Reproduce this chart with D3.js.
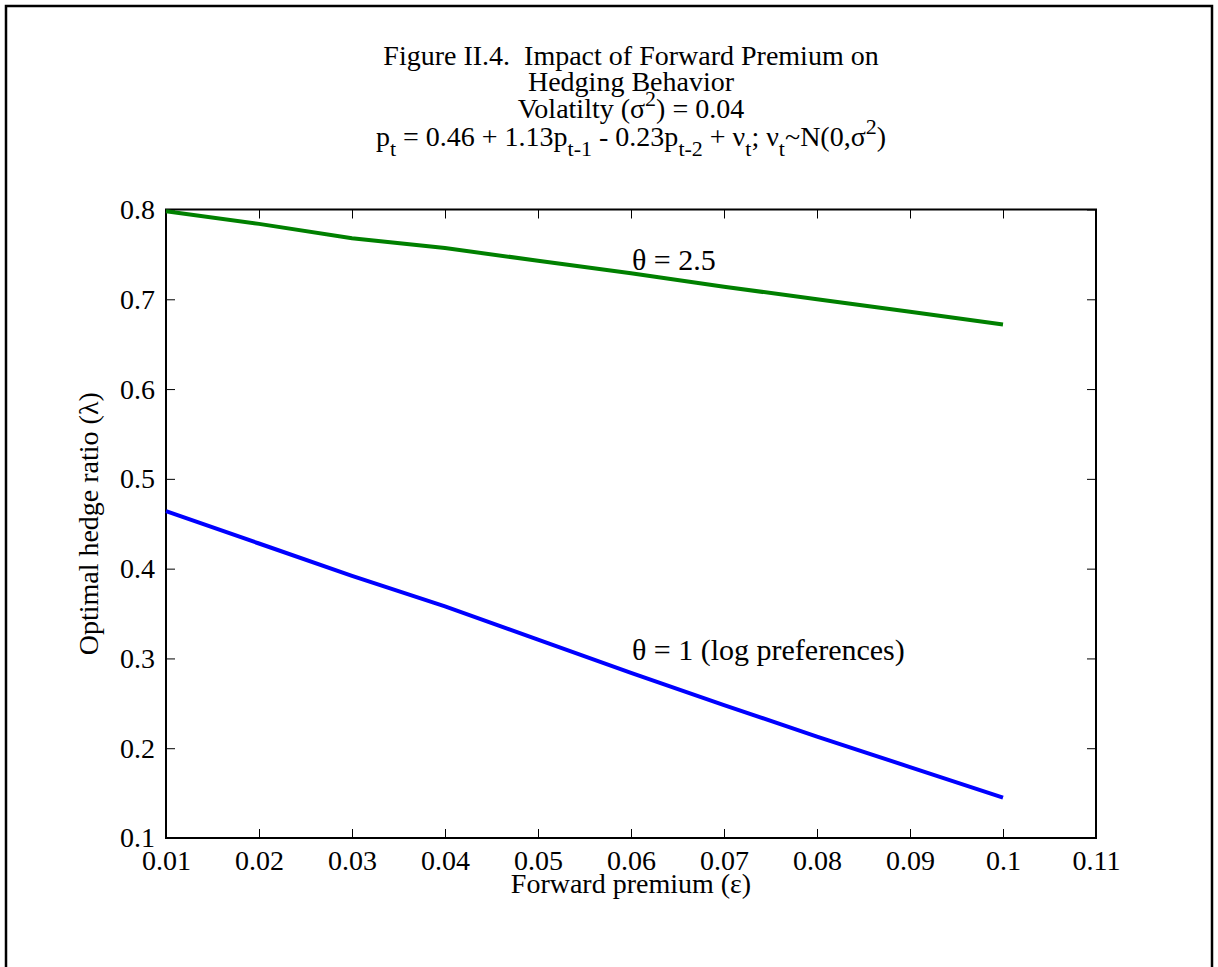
<!DOCTYPE html>
<html><head><meta charset="utf-8">
<script src="https://cdn.jsdelivr.net/npm/d3@7"></script>
<style>
body{margin:0;background:#fff}
svg{display:block}
text{font-family:"Liberation Serif","Times New Roman",serif;fill:#000;white-space:pre}
</style>
</head><body>
<svg id="c" width="1218" height="967"></svg>
<script>
// ---- data ----
const premium = [0.01, 0.02, 0.03, 0.04, 0.05, 0.06, 0.07, 0.08, 0.09, 0.10];
const hedgeTheta25 = [0.798, 0.784, 0.768, 0.757, 0.743, 0.729, 0.714, 0.700, 0.686, 0.672];
const hedgeTheta1  = [0.464, 0.428, 0.392, 0.358, 0.321, 0.284, 0.248, 0.213, 0.179, 0.145];
const xTicks = [0.01, 0.02, 0.03, 0.04, 0.05, 0.06, 0.07, 0.08, 0.09, 0.10, 0.11];
const xTickLabels = ["0.01","0.02","0.03","0.04","0.05","0.06","0.07","0.08","0.09","0.1","0.11"];
const yTicks = [0.1, 0.2, 0.3, 0.4, 0.5, 0.6, 0.7, 0.8];
const yTickLabels = ["0.1","0.2","0.3","0.4","0.5","0.6","0.7","0.8"];
const seriesNames = ["\u03b8 = 2.5", "\u03b8 = 1 (log preferences)"];
const xLabel = "Forward premium (\u03b5)";
const yLabel = "Optimal hedge ratio (\u03bb)";

// ---- layout ----
const svg = d3.select("#c");
const FS = 28;
const x = d3.scaleLinear().domain([0.01, 0.11]).range([166, 1096]);
const y = d3.scaleLinear().domain([0.1, 0.8]).range([838, 209.5]);

// outer frame
svg.append("rect").attr("x", 6).attr("y", 6).attr("width", 1206).attr("height", 980)
  .attr("fill", "none").attr("stroke", "#000").attr("stroke-width", 2.5);

// axes with inward ticks on all four sides
function styleAxis(g){
  g.select(".domain").remove();
  g.selectAll(".tick line").attr("stroke", "#000").attr("stroke-width", 1);
  g.selectAll(".tick text").style("font-size", FS + "px").attr("fill", "#000")
    .style("font-family", '"Liberation Serif","Times New Roman",serif');
}
const fmtX = (d) => xTickLabels[xTicks.indexOf(d)];
const fmtY = (d) => yTickLabels[yTicks.indexOf(d)];

svg.append("g").attr("transform", `translate(0,${y(0.1)})`)
  .call(d3.axisBottom(x).tickValues(xTicks).tickFormat(fmtX).tickSize(-9).tickSizeOuter(0).tickPadding(12))
  .call(styleAxis)
  .selectAll(".tick text").attr("dy", "0.71em");
svg.append("g").attr("transform", `translate(0,${y(0.8)})`)
  .call(d3.axisTop(x).tickValues(xTicks).tickFormat("").tickSize(-9).tickSizeOuter(0))
  .call(styleAxis);
svg.append("g").attr("transform", `translate(${x(0.01)},0)`)
  .call(d3.axisLeft(y).tickValues(yTicks).tickFormat(fmtY).tickSize(-9).tickSizeOuter(0).tickPadding(11))
  .call(styleAxis);
svg.append("g").attr("transform", `translate(${x(0.11)},0)`)
  .call(d3.axisRight(y).tickValues(yTicks).tickFormat("").tickSize(-9).tickSizeOuter(0))
  .call(styleAxis);

// box
svg.append("rect").attr("x", x(0.01)).attr("y", y(0.8))
  .attr("width", x(0.11) - x(0.01)).attr("height", y(0.1) - y(0.8))
  .attr("fill", "none").attr("stroke", "#000").attr("stroke-width", 2);

// lines
const line = d3.line().x((d, i) => x(premium[i])).y(d => y(d));
svg.append("path").datum(hedgeTheta25).attr("d", line)
  .attr("fill", "none").attr("stroke", "#008000").attr("stroke-width", 4);
svg.append("path").datum(hedgeTheta1).attr("d", line)
  .attr("fill", "none").attr("stroke", "#0000ff").attr("stroke-width", 4);

// series labels
svg.append("text").attr("x", x(0.0601)).attr("y", y(0.733)).style("font-size", "30px").text(seriesNames[0]);
svg.append("text").attr("x", x(0.0601)).attr("y", y(0.298)).style("font-size", "30px").text(seriesNames[1]);

// axis labels
svg.append("text").attr("x", (x(0.01) + x(0.11)) / 2).attr("y", 893).attr("text-anchor", "middle")
  .style("font-size", FS + "px").text(xLabel);
svg.append("text").attr("transform", `translate(98,${(y(0.1) + y(0.8)) / 2}) rotate(-90)`)
  .attr("text-anchor", "middle").style("font-size", FS + "px").text(yLabel);

// title with sub/superscripts
function richLine(yy, segs){
  const t = svg.append("text").attr("x", (x(0.01) + x(0.11)) / 2).attr("y", yy)
    .attr("text-anchor", "middle").style("font-size", FS + "px");
  let prev = 0;
  segs.forEach(s => {
    const shift = s.sub ? 10 : s.sup ? -12 : 0;
    t.append("tspan").attr("dy", shift - prev)
      .style("font-size", (s.sub || s.sup ? 22 : FS) + "px").text(s.t);
    prev = shift;
  });
}
richLine(65, [{t:"Figure II.4.  Impact of Forward Premium on"}]);
richLine(91, [{t:"Hedging Behavior"}]);
richLine(118, [{t:"Volatilty (\u03c3"},{t:"2",sup:true},{t:") = 0.04"}]);
richLine(146, [{t:"p"},{t:"t",sub:true},{t:" = 0.46 + 1.13p"},{t:"t-1",sub:true},{t:" - 0.23p"},{t:"t-2",sub:true},
  {t:" + \u03bd"},{t:"t",sub:true},{t:"; \u03bd"},{t:"t",sub:true},{t:"~N(0,\u03c3"},{t:"2",sup:true},{t:")"}]);
</script>
</body></html>
